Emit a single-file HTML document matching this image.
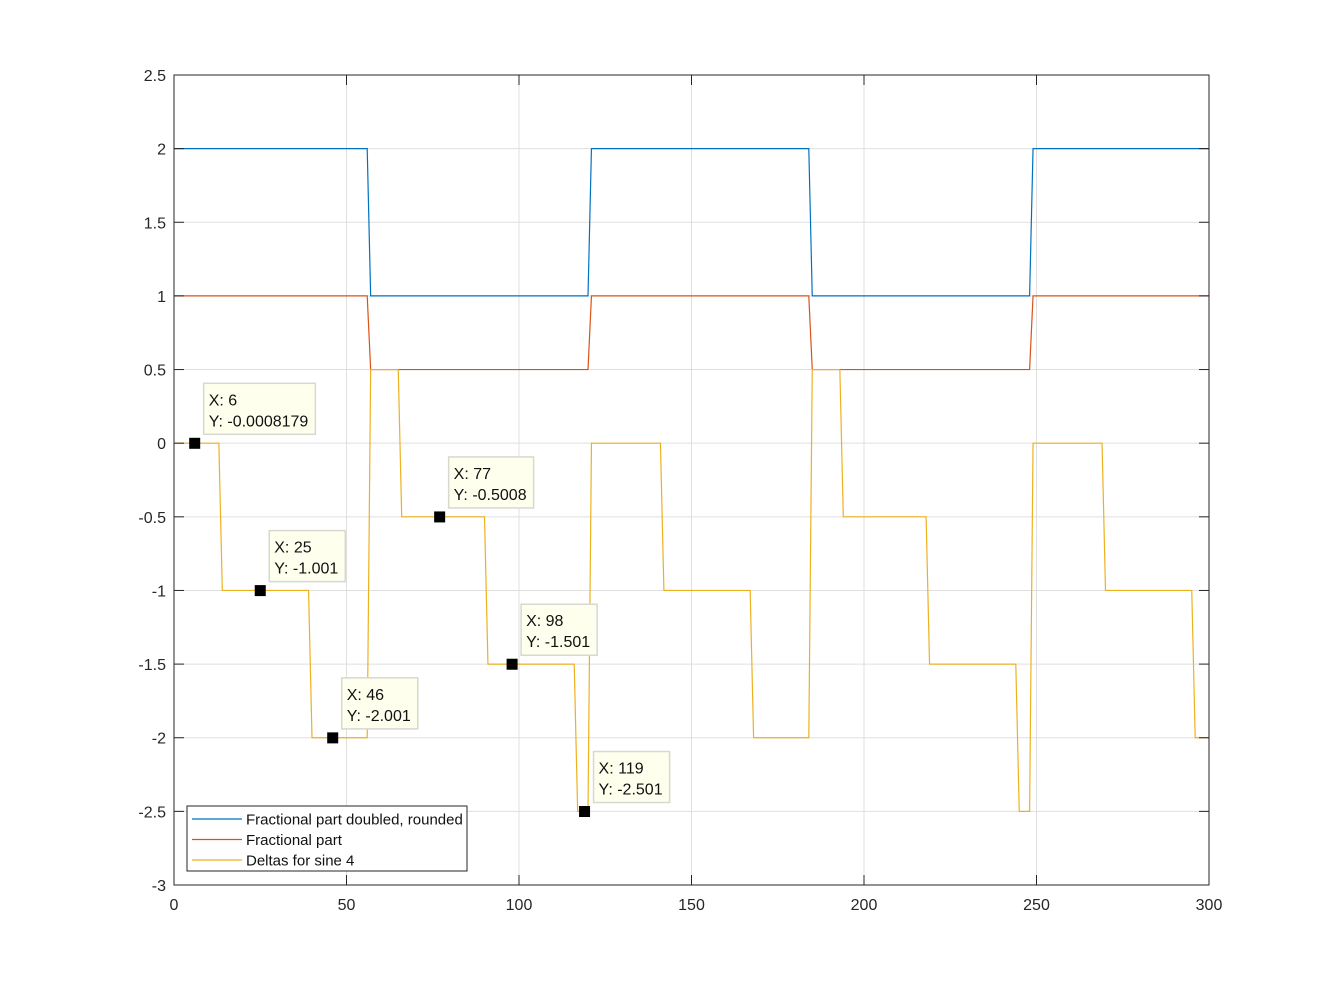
<!DOCTYPE html>
<html><head><meta charset="utf-8"><style>
html,body{margin:0;padding:0;background:#fff;}
svg{display:block;font-family:"Liberation Sans",Arial,sans-serif;}
</style></head><body>
<svg id="chart" width="1337" height="995" viewBox="0 0 1337 995" xmlns="http://www.w3.org/2000/svg">
<rect width="1337" height="995" fill="#fff"/>
<g id="grid"></g><g id="series"></g><g id="axes"></g><g id="tips"></g><g id="legend"></g>
</svg>
<script>
const xTicks=[0,50,100,150,200,250,300];
const yTicks=[2.5,2,1.5,1,0.5,0,-0.5,-1,-1.5,-2,-2.5,-3];
const yTickLabels=["2.5","2","1.5","1","0.5","0","-0.5","-1","-1.5","-2","-2.5","-3"];
const blueX=[0,56,57,120,121,184,185,248,249,300];
const blueY=[2,2,1,1,2,2,1,1,2,2];
const redX=[0,56,57,120,121,184,185,248,249,300];
const redY=[1,1,0.5,0.5,1,1,0.5,0.5,1,1];
const yelX=[0,13,14,39,40,56,57,65,66,90,91,116,117,120,121,141,142,167,168,184,185,193,194,218,219,244,245,248,249,269,270,295,296,300];
const yelY=[0,0,-1,-1,-2,-2,0.5,0.5,-0.5,-0.5,-1.5,-1.5,-2.5,-2.5,0,0,-1,-1,-2,-2,0.5,0.5,-0.5,-0.5,-1.5,-1.5,-2.5,-2.5,0,0,-1,-1,-2,-2];
const tipX=[6,25,46,77,98,119];
const tipY=[-0.0008179,-1.001,-2.001,-0.5008,-1.501,-2.501];
const tipLabels=["-0.0008179","-1.001","-2.001","-0.5008","-1.501","-2.501"];
const legendLabels=["Fractional part doubled, rounded","Fractional part","Deltas for sine 4"];

const L=174,R=1209,T=75,B=885;
const sx=v=>L+(v-0)/(300-0)*(R-L);
const sy=v=>B-(v-(-3))/(2.5-(-3))*(B-T);
const NS="http://www.w3.org/2000/svg";
function mk(tag,attrs,parent){const e=document.createElementNS(NS,tag);for(const k in attrs)e.setAttribute(k,attrs[k]);parent.appendChild(e);return e;}
const grid=document.getElementById('grid'),axes=document.getElementById('axes'),series=document.getElementById('series'),tips=document.getElementById('tips'),legend=document.getElementById('legend');

xTicks.forEach(t=>{const x=sx(t);
 let g=mk('line',{x1:x,x2:x,y1:T,y2:B,stroke:'#dfdfdf','stroke-width':1},grid);
 
 mk('line',{x1:x,x2:x,y1:B,y2:B-10,stroke:'#262626'},axes);
 mk('line',{x1:x,x2:x,y1:T,y2:T+10,stroke:'#262626'},axes);
 let tx=mk('text',{x:x,y:B+25,'text-anchor':'middle','font-size':16,fill:'#262626'},axes);tx.textContent=t;
 
});
yTicks.forEach((t,i)=>{const y=sy(t);
 let g=mk('line',{x1:L,x2:R,y1:y,y2:y,stroke:'#dfdfdf','stroke-width':1},grid);
 
 mk('line',{x1:L,x2:L+10,y1:y,y2:y,stroke:'#262626'},axes);
 mk('line',{x1:R,x2:R-10,y1:y,y2:y,stroke:'#262626'},axes);
 let tx=mk('text',{x:L-8,y:y+6,'text-anchor':'end','font-size':16,fill:'#262626'},axes);tx.textContent=yTickLabels[i];
 
});
let box=mk('rect',{x:L,y:T,width:R-L,height:B-T,fill:'none',stroke:'#262626','stroke-width':1},axes);


function line(xs,ys,color,name){const pts=xs.map((x,i)=>sx(x).toFixed(2)+','+sy(ys[i]).toFixed(2)).join(' ');
 const p=mk('polyline',{points:pts,fill:'none',stroke:color,'stroke-width':1.2},series);
 }
line(blueX,blueY,'#0072bd','series-fractional-doubled-rounded');
line(redX,redY,'#d95319','series-fractional-part');
line(yelX,yelY,'#edb120','series-deltas-sine-4');

tipX.forEach((x,i)=>{const px=sx(x),py=sy(tipY[i]);
 const g=mk('g',{},tips);
 
 
 const s1='X: '+x, s2='Y: '+tipLabels[i];
 const r=mk('rect',{x:px+9,y:py-60,width:80,height:51,fill:'#ffffee',stroke:'#d8d8d0','stroke-width':1.5},g);
 let a=mk('text',{x:px+14,y:py-38,'font-size':16,fill:'#111'},g);a.textContent=s1;
 let b=mk('text',{x:px+14,y:py-17,'font-size':16,fill:'#111'},g);b.textContent=s2;
 const w=Math.max(a.getComputedTextLength(),b.getComputedTextLength())+12;
 r.setAttribute('width',w);
 const m=mk('rect',{x:px-5.5,y:py-5.5,width:11,height:11,fill:'#000'},g);
 
});

const lb=mk('rect',{x:187,y:806,width:280,height:65,fill:'#fff',stroke:'#262626','stroke-width':1},legend);

const cols=['#0072bd','#d95319','#edb120'];
legendLabels.forEach((t,i)=>{const y=819+i*20.5;
 const g=mk('g',{},legend);
 
 
 mk('line',{x1:192,x2:242,y1:y,y2:y,stroke:cols[i],'stroke-width':1.2},g);
 let tx=mk('text',{x:246,y:y+5.5,'font-size':15,fill:'#111'},g);tx.textContent=t;
});
</script>
</body></html>
